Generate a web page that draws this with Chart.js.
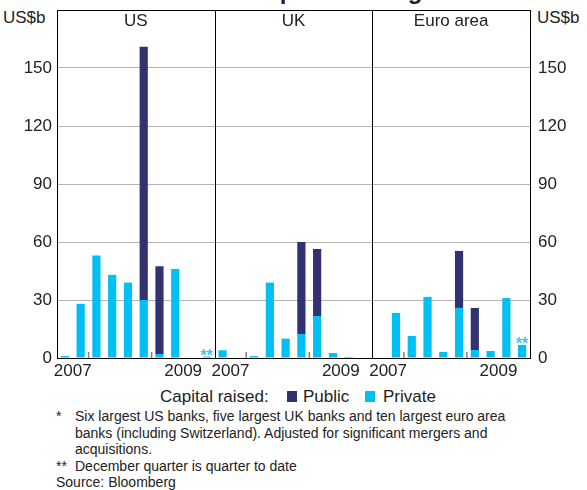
<!DOCTYPE html>
<html lang="en">
<head>
<meta charset="UTF-8">
<title>Capital raised by banks</title>
<script src="https://cdn.jsdelivr.net/npm/chart.js"></script>
<style>
  body { margin: 0; background: #fff; font-family: Arial, "Liberation Sans", sans-serif; color: #222; }
  .wrap { position: relative; width: 587px; height: 490px; overflow: hidden; }
  .title { position: absolute; left: 10px; right: 0; top: -21px; text-align: center; font-weight: bold; font-size: 24px; line-height: 24px; }
  .unit { position: absolute; top: 8px; font-size: 17px; line-height: 19px; }
  .chartbox { position: absolute; left: 0; top: 0; width: 587px; height: 382px; }
  .lg { position: absolute; top: 387px; font-size: 17px; line-height: 19px; white-space: nowrap; }
  .sw { position: absolute; top: 391px; width: 10px; height: 11px; }
  .note { position: absolute; left: 56px; font-size: 14px; line-height: 16.5px; white-space: nowrap; }
  .note .mk { position: absolute; left: 0; }
  .note .tx { position: absolute; left: 19px; }
</style>
</head>
<body>
<div class="wrap">
  <div class="title">Banks’ Capital Raising*</div>
  <div class="unit" style="left:3px">US$b</div>
  <div class="unit" style="left:537px">US$b</div>
  <div class="chartbox"><canvas id="capChart"></canvas></div>

  <div class="lg" style="left:160px">Capital raised:</div>
  <div class="sw" style="left:287px;background:#31326f"></div>
  <div class="lg" style="left:303px">Public</div>
  <div class="sw" style="left:365px;background:#00bff3"></div>
  <div class="lg" style="left:383px">Private</div>

  <div class="note" style="top:408px"><span class="mk">*</span><span class="tx">Six largest US banks, five largest UK banks and ten largest euro area<br>banks (including Switzerland). Adjusted for significant mergers and<br>acquisitions.</span></div>
  <div class="note" style="top:458px"><span class="mk">**</span><span class="tx">December quarter is quarter to date</span></div>
  <div class="note" style="top:474px">Source: Bloomberg</div>
</div>

<script>
// quarters shown in each panel, Sep 2007 to Dec 2009
const quarters = ['Sep-07', 'Dec-07', 'Mar-08', 'Jun-08', 'Sep-08', 'Dec-08', 'Mar-09', 'Jun-09', 'Sep-09', 'Dec-09'];
const panels = ['US', 'UK', 'Euro area'];
const yearLabels = ['2007', '', '', '', '', '', '', '2009', '', ''];
const yearBreaks = [2, 6];           // first quarter of 2008 and 2009
const quarterToDate = ['US', 'Euro area'];
const yTicks = [0, 30, 60, 90, 120, 150];

// US$b
const usPrivate   = [1, 28, 53, 43, 39, 30, 2, 46, 0, 0.7];
const usPublic    = [0, 0, 0, 0, 0, 131, 45.5, 0, 0, 0];
const ukPrivate   = [4, 0, 1, 39, 10, 12.4, 21.7, 2.6, 0.6, 0];
const ukPublic    = [0, 0, 0, 0, 0, 47.6, 34.7, 0, 0, 0];
const euroPrivate = [0, 23.3, 11.4, 31.6, 3.1, 25.9, 4.1, 3.6, 31, 6.7];
const euroPublic  = [0, 0, 0, 0, 0, 29.5, 21.8, 0, 0, 0];

const labels = panels.flatMap(p => quarters.map(q => p + ' ' + q));
const privateData = [...usPrivate, ...ukPrivate, ...euroPrivate];
const publicData = [...usPublic, ...ukPublic, ...euroPublic];

const FONT = 'Arial, "Liberation Sans", sans-serif';

const decorations = {
  id: 'decorations',
  afterDatasetsDraw(chart) {
    const { ctx, chartArea: a, scales: { x, y } } = chart;
    const mid = (i, j) => (x.getPixelForValue(i) + x.getPixelForValue(j)) / 2;
    ctx.save();
    ctx.strokeStyle = '#000';
    ctx.lineWidth = 1;
    ctx.beginPath();
    ctx.moveTo(a.left, a.top + 0.5);
    ctx.lineTo(a.right, a.top + 0.5);
    ctx.stroke();

    ctx.font = '17px ' + FONT;
    ctx.fillStyle = '#222';
    ctx.textAlign = 'center';
    ctx.textBaseline = 'middle';
    panels.forEach((p, k) => {
      const start = k * quarters.length;
      const end = start + quarters.length - 1;
      if (k > 0) {
        const px = Math.round(mid(start - 1, start)) + 0.5;
        ctx.strokeStyle = '#000';
        ctx.lineWidth = 1;
        ctx.beginPath();
        ctx.moveTo(px, a.top);
        ctx.lineTo(px, a.bottom);
        ctx.stroke();
      }
      ctx.fillText(p, mid(start, end), a.top + 11);

      ctx.strokeStyle = '#808080';
      ctx.lineWidth = 1.5;
      yearBreaks.forEach(b => {
        const px = mid(start + b - 1, start + b);
        ctx.beginPath();
        ctx.moveTo(px, a.bottom);
        ctx.lineTo(px, a.bottom - 6);
        ctx.stroke();
      });
    });

    ctx.font = 'bold 16px ' + FONT;
    ctx.fillStyle = '#3cc6f2';
    ctx.textBaseline = 'alphabetic';
    quarterToDate.forEach(p => {
      const i = panels.indexOf(p) * quarters.length + quarters.length - 1;
      const top = y.getPixelForValue(privateData[i] + publicData[i]);
      ctx.fillText('**', x.getPixelForValue(i), top + 4);
    });
    ctx.restore();
  }
};

const yAxis = (position) => ({
  position: position,
  stacked: true,
  min: 0,
  max: 180,
  afterBuildTicks: s => { s.ticks = yTicks.map(v => ({ value: v })); },
  afterFit: s => { s.width = 57; s.paddingTop = 0; s.paddingBottom = 0; },
  grid: {
    display: position === 'left',
    drawTicks: false,
    color: c => (c.tick && c.tick.value > 0) ? '#b4b4b4' : 'transparent'
  },
  border: { display: true, color: '#000', width: 1 },
  ticks: { color: '#222', padding: position === 'left' ? 5 : 8, font: { size: 17, family: FONT } }
});

new Chart(document.getElementById('capChart'), {
  type: 'bar',
  data: {
    labels: labels,
    datasets: [
      { label: 'Private', data: privateData, backgroundColor: '#00bff3', yAxisID: 'y', barPercentage: 0.52, categoryPercentage: 1 },
      { label: 'Public', data: publicData, backgroundColor: '#31326f', yAxisID: 'y', barPercentage: 0.52, categoryPercentage: 1 }
    ]
  },
  options: {
    responsive: true,
    maintainAspectRatio: false,
    animation: false,
    layout: { padding: { top: 10, left: 0, right: 0, bottom: 0 } },
    plugins: { legend: { display: false }, tooltip: { enabled: false } },
    scales: {
      x: {
        stacked: true,
        offset: true,
        afterFit: s => { s.height = 24; s.paddingLeft = 0; s.paddingRight = 0; },
        grid: { display: false, drawTicks: false },
        border: { display: true, color: '#000', width: 1 },
        ticks: {
          autoSkip: false,
          maxRotation: 0,
          labelOffset: 7.9,
          padding: 3,
          color: '#222',
          font: { size: 17, family: FONT },
          callback: (v, i) => yearLabels[i % quarters.length]
        }
      },
      y: yAxis('left'),
      y2: yAxis('right')
    }
  },
  plugins: [decorations]
});
</script>
</body>
</html>
